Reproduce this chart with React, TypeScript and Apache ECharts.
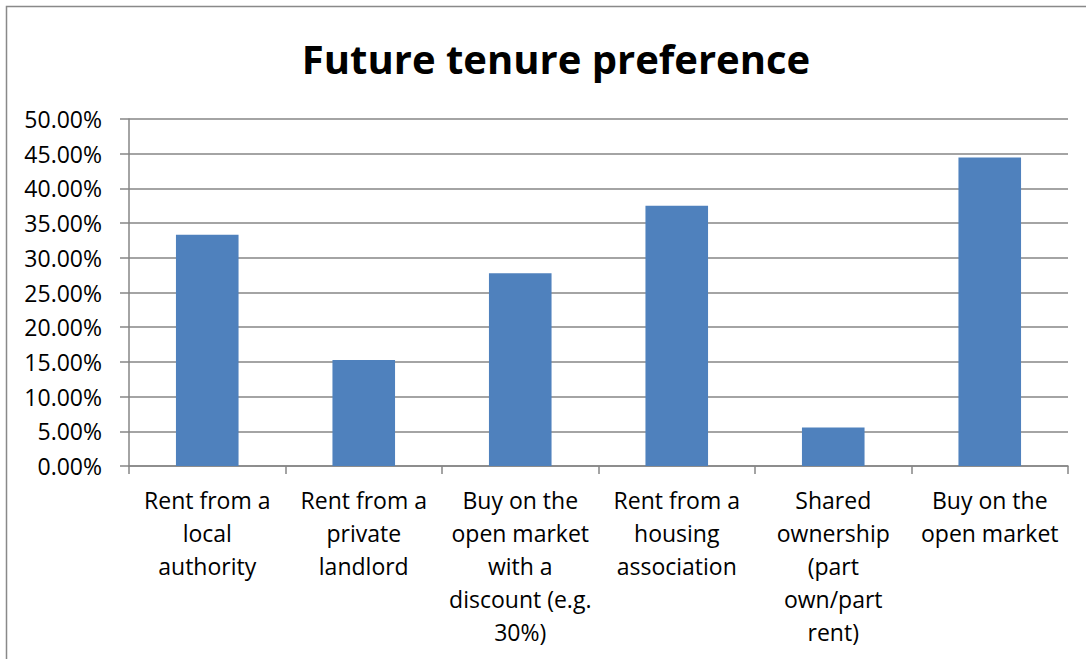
import React, { useEffect, useRef } from "react";
import * as echarts from "echarts";

const categories = [
  "Rent from a\nlocal\nauthority",
  "Rent from a\nprivate\nlandlord",
  "Buy on the\nopen market\nwith a\ndiscount (e.g.\n30%)",
  "Rent from a\nhousing\nassociation",
  "Shared\nownership\n(part\nown/part\nrent)",
  "Buy on the\nopen market",
];
const values = [0.3333, 0.1528, 0.2778, 0.375, 0.0556, 0.4444];
const titleText = "Future tenure preference";
const yMin = 0;
const yMax = 0.5;
const yStep = 0.05;

const FONT = "'Open Sans', 'Noto Sans', sans-serif";
const GRAY = "#868686";

export default function App() {
  const ref = useRef<HTMLDivElement>(null);
  useEffect(() => {
    if (!ref.current) return;
    const chart = echarts.init(ref.current, undefined, { renderer: "svg" });
    chart.setOption({
      animation: false,
      backgroundColor: "#ffffff",
      title: {
        text: titleText,
        left: 551,
        top: 33,
        textAlign: "center",
        textStyle: { fontFamily: FONT, fontWeight: "bold", fontSize: 40, color: "#000" },
      },
      graphic: [
        {
          type: "rect",
          shape: { x: 6.5, y: 6.5, width: 1200, height: 800 },
          style: { fill: "none", stroke: "#898989", lineWidth: 1.5 },
          silent: true,
        },
      ],
      grid: { left: 129, right: 18, top: 119, bottom: 193, containLabel: false },
      xAxis: {
        type: "category",
        data: categories,
        axisLine: { show: true, lineStyle: { color: GRAY, width: 1.5 } },
        axisTick: { show: true, interval: 0, alignWithLabel: false, length: 8, lineStyle: { color: GRAY, width: 1.5 } },
        axisLabel: {
          interval: 0,
          margin: 17,
          fontFamily: FONT,
          fontSize: 23,
          lineHeight: 33,
          color: "#000",
          align: "center",
        },
      },
      yAxis: {
        type: "value",
        min: yMin,
        max: yMax,
        interval: yStep,
        axisLine: { show: true, lineStyle: { color: GRAY, width: 1.5 } },
        axisTick: { show: true, length: 9, lineStyle: { color: GRAY, width: 1.5 } },
        splitLine: { show: true, lineStyle: { color: GRAY, width: 1.5 } },
        axisLabel: {
          margin: 27,
          fontFamily: FONT,
          fontSize: 23,
          color: "#000",
          formatter: (v: number) => (v * 100).toFixed(2) + "%",
        },
      },
      series: [
        {
          type: "bar",
          data: values,
          barWidth: "40%",
          itemStyle: { color: "#4F81BD" },
        },
      ],
    });
    return () => chart.dispose();
  }, []);
  return (
    <div
      ref={ref}
      style={{ position: "fixed", left: 0, top: 0, width: 1086, height: 659 }}
    />
  );
}
